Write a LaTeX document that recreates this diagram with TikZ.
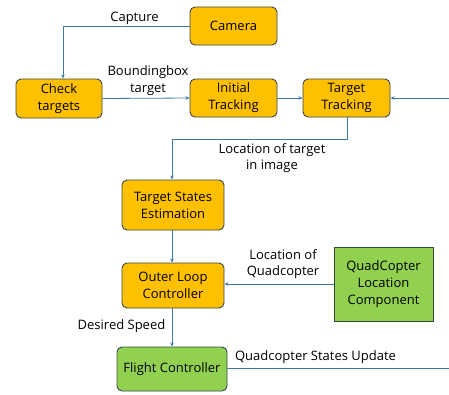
\documentclass[tikz,border=0pt]{standalone}
\usepackage{fontspec}
\setmainfont{Open Sans}
\usetikzlibrary{arrows.meta}
\definecolor{orng}{HTML}{FFC000}
\definecolor{grn}{HTML}{92D050}
\definecolor{edge}{HTML}{3A4654}
\definecolor{gedge}{HTML}{2E4A46}
\definecolor{link}{HTML}{3D7BA6}
\begin{document}
\begin{tikzpicture}[x=1pt,y=-1pt,
  font=\fontsize{13}{17}\selectfont,
  obox/.style={draw=edge,line width=0.9pt,fill=orng,rounded corners=5pt,align=center,inner sep=0pt},
  gbox/.style={draw=edge,line width=0.9pt,fill=grn,rounded corners=5pt,align=center,inner sep=0pt},
  sbox/.style={draw=gedge,line width=0.9pt,fill=grn,align=center,inner sep=0pt},
  conn/.style={draw=link,line width=0.8pt,-{Stealth[length=4pt,width=3.5pt]}},
  plain/.style={draw=link,line width=0.8pt},
  lbl/.style={align=center,inner sep=0pt,font=\fontsize{13}{16.5}\selectfont}]
\useasboundingbox (0,0) rectangle (449,394);
\node[obox,minimum width=87pt,minimum height=38pt] (cam) at (233.5,26) {Camera};
\node[obox,minimum width=86pt,minimum height=39pt] (chk) at (59,98.5) {Check\\targets};
\node[obox,minimum width=87pt,minimum height=38pt] (ini) at (233.5,98) {Initial\\Tracking};
\node[obox,minimum width=87pt,minimum height=38pt] (trk) at (346.5,98) {Target\\Tracking};
\node[obox,minimum width=102pt,minimum height=50pt] (tse) at (173,205) {Target States\\Estimation};
\node[obox,minimum width=102pt,minimum height=45pt] (olc) at (173,285.5) {Outer Loop\\Controller};
\node[sbox,minimum width=99pt,minimum height=74pt] (qlc) at (383.5,284) {QuadCopter\\Location\\Component};
\node[gbox,minimum width=110pt,minimum height=44pt] (fc) at (172,369) {Flight Controller};
\coordinate (rin) at (449,98);
\coordinate (rout) at (449,368);
\coordinate (bend1) at (63,26);
\coordinate (bend2) at (347,139);
\coordinate (bend3) at (172,139);
% connectors
\draw[conn] (cam.west) -- (bend1) -- (chk.north -| bend1);
\draw[conn] (chk.east) -- (ini.west);
\draw[conn] (ini.east) -- (trk.west);
\draw[conn] (rin) -- (trk.east);
\draw[plain] (trk.south -| bend2) -- (bend2) -- (bend3);
\draw[conn] (bend3) -- (tse.north -| bend3);
\draw[conn] (tse.south -| bend3) -- (olc.north -| bend3);
\draw[conn] (qlc.west) -- (olc.east |- qlc.west);
\draw[conn] (olc.south -| bend3) -- (fc.north -| bend3);
\draw[plain] (fc.east |- rout) -- (rout);
% labels
\node[lbl] (l1) at (134.5,18) {Capture};
\node[lbl] (l2) at (148,80.5) {Boundingbox\\target};
\node[lbl] (l3) at (272,158) {Location of target\\in image};
\node[lbl] (l4) at (283,264) {Location of\\Quadcopter};
\node[lbl] (l5) at (121.5,326) {Desired Speed};
\node[lbl] (l6) at (315.5,357) {Quadcopter States Update};
\end{tikzpicture}
\end{document}
